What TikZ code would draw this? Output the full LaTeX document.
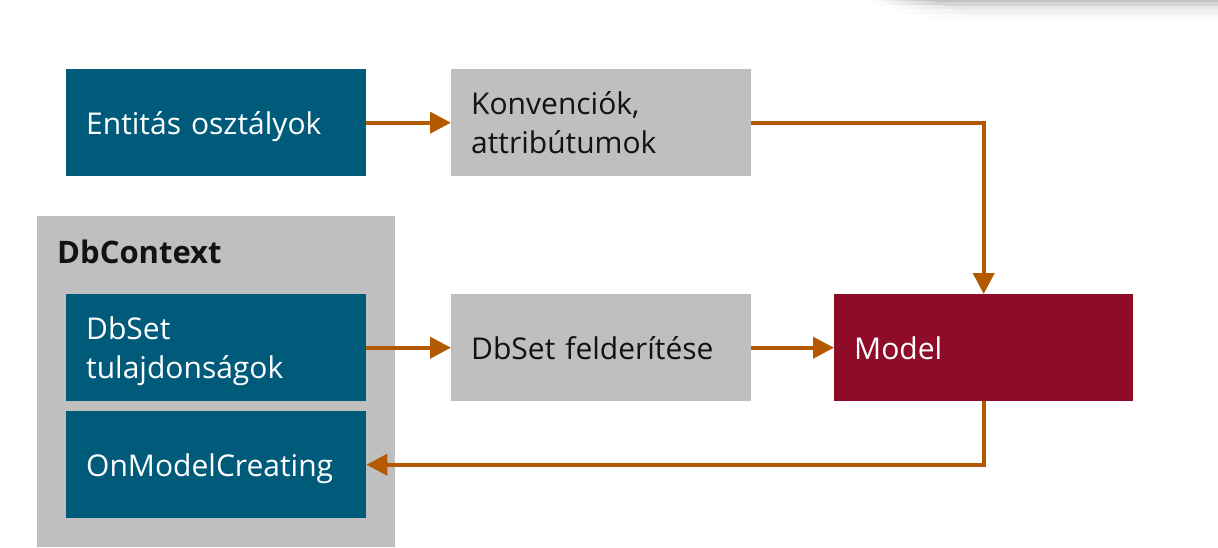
\documentclass[tikz,border=0pt]{standalone}
\usepackage{fontspec}
\setmainfont{Open Sans}
\usetikzlibrary{arrows.meta}
\definecolor{teal}{HTML}{005B7B}
\definecolor{boxgray}{HTML}{BFBFBF}
\definecolor{modelred}{HTML}{8F0C28}
\definecolor{arrowor}{HTML}{B35A00}
\tikzset{
  box/.style={inner xsep=20pt, inner ysep=0pt, text width=260pt, minimum height=107pt,
    align=left, anchor=north west, font=\fontsize{30}{39.5}\selectfont},
  oneline/.style={text depth=0pt},
  bluebox/.style={box, fill=teal, text=white},
  graybox/.style={box, fill=boxgray, text=black!93},
  redbox/.style={box, fill=modelred, text=white},
  conn/.style={draw=arrowor, line width=4pt, -{Triangle[length=21pt,width=21pt]}}
}
\begin{document}
\begin{tikzpicture}[x=1pt,y=-1pt]
\useasboundingbox (0,0) rectangle (1218,548);
% top-right shadow
\foreach \y/\c/\x in {0/24/870, 2/17/875, 6/9/885, 10/5/895, 15/2/905} {
  \shade[left color=white, right color=black!\c] (\x,\y) rectangle (\x+60,\y+5);
  \fill[black!\c] (\x+59,\y) rectangle (1218,\y+5);
}
% container
\node[fill=boxgray, minimum width=358pt, minimum height=331pt, inner sep=0pt, anchor=north west] (ctx) at (37,216) {};
\node[anchor=base west, inner sep=0pt, font=\fontsize{31}{36}\selectfont\bfseries, text=black!93] (ctxlabel) at (57,263) {DbContext};
% boxes
\node[bluebox, oneline] (ent) at (66,69) {Entitás osztályok};
\node[graybox] (konv) at (451,69) {Konvenciók,\\\smash{attribútumok}};
\node[bluebox] (dbset) at (66,294) {DbSet\\\smash{tulajdonságok}};
\node[bluebox, oneline] (omc) at (66,411) {OnModelCreating};
\node[graybox, oneline] (felder) at (451,294) {DbSet felderítése};
\node[redbox, oneline, text width=259pt] (model) at (834,294) {Model};
% connectors
\draw[conn] (ent.east) -- (konv.west);
\draw[conn] (konv.east) -| (model.north);
\draw[conn] (dbset.east) -- (felder.west);
\draw[conn] (felder.east) -- (model.west);
\draw[conn] (model.south) |- (omc.east);
\end{tikzpicture}
\end{document}
